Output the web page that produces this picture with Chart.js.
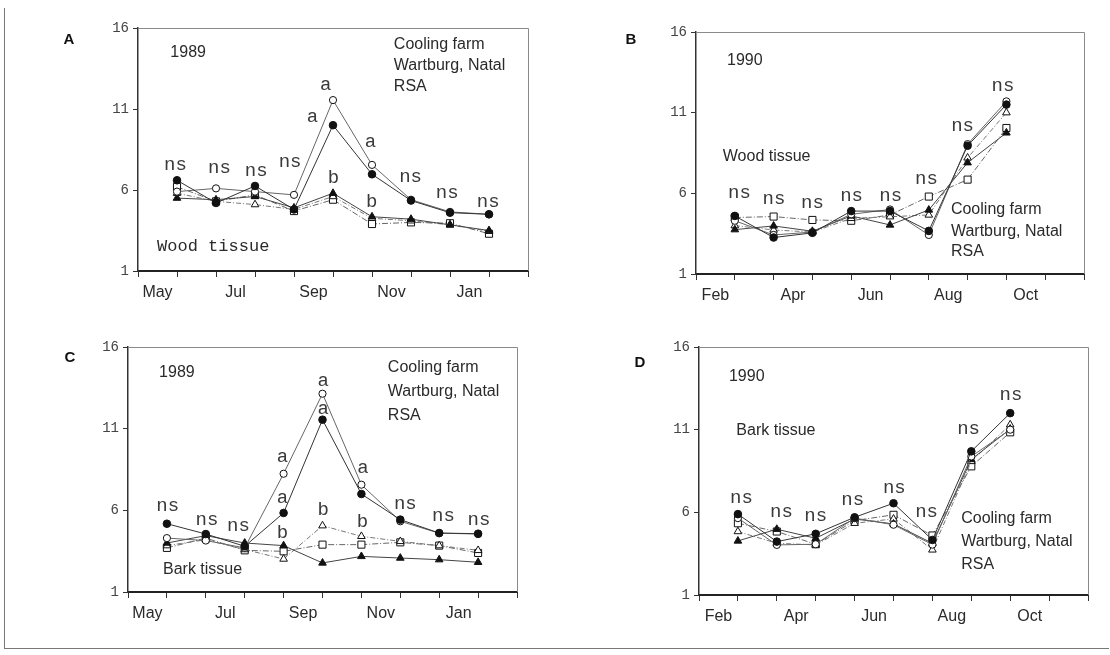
<!DOCTYPE html>
<html>
<head>
<meta charset="utf-8">
<script src="https://cdn.jsdelivr.net/npm/chart.js@4.4.1/dist/chart.umd.min.js"></script>
<style>
  html, body { margin: 0; padding: 0; background: #fff; }
  #page { position: relative; width: 1110px; height: 655px; overflow: hidden; }
  .panel { position: absolute; }
  #frame { position: absolute; left: 4px; top: 8px; width: 1104px; height: 640px;
           border-left: 1px solid #777; border-bottom: 1px solid #777; }
</style>
</head>
<body>
<div id="page">
  <div id="frame"></div>
  <div class="panel" style="left:0;top:0"><canvas id="chartA" width="555" height="325"></canvas></div>
  <div class="panel" style="left:555px;top:0"><canvas id="chartB" width="555" height="325"></canvas></div>
  <div class="panel" style="left:0;top:325px"><canvas id="chartC" width="555" height="330"></canvas></div>
  <div class="panel" style="left:555px;top:325px"><canvas id="chartD" width="555" height="330"></canvas></div>
</div>
<script>
// -- Data --
const months89 = ['May', 'Jul', 'Sep', 'Nov', 'Jan'];
const months90 = ['Feb', 'Apr', 'Jun', 'Aug', 'Oct'];
const yTicks = [1, 6, 11, 16];

// A: wood tissue 1989 (sampling points 1..9)
const woodDot89     = [6.6, 5.2, 6.25, 4.8, 10.0, 6.97, 5.35, 4.6, 4.5];
const woodRing89    = [5.9, 6.1, 5.9, 5.7, 11.55, 7.55, 5.4, 4.65, 4.5];
const woodTri89     = [5.5, 5.4, 5.6, 4.9, 5.8, 4.35, 4.2, 3.85, 3.5];
const woodOpenTri89 = [5.8, 5.3, 5.1, 4.8, 5.6, 4.25, 4.1, 3.85, 3.45];
const woodSquare89  = [6.2, 5.3, 5.7, 4.7, 5.4, 3.9, 4.0, 3.95, 3.3];

// B: wood tissue 1990 (sampling points 1..8)
const woodDot90     = [4.6, 3.26, 3.55, 4.9, 4.9, 3.67, 8.95, 11.5];
const woodRing90    = [4.3, 3.42, 3.6, 4.7, 5.0, 3.42, 9.05, 11.7];
const woodTri90     = [3.75, 3.98, 3.65, 4.6, 4.04, 4.97, 7.9, 9.75];
const woodOpenTri90 = [4.0, 3.73, 3.6, 4.45, 4.55, 4.66, 8.2, 11.0];
const woodSquare90  = [4.5, 4.56, 4.35, 4.3, 4.66, 5.8, 6.85, 10.05];

// C: bark tissue 1989
const barkDot89     = [5.18, 4.55, 3.8, 5.84, 11.55, 7.0, 5.43, 4.61, 4.57];
const barkRing89    = [4.3, 4.15, 3.7, 8.24, 13.14, 7.57, 5.33, 4.6, 4.55];
const barkTri89     = [4.0, 4.45, 4.0, 3.84, 2.78, 3.18, 3.08, 2.98, 2.82];
const barkOpenTri89 = [3.84, 4.2, 3.6, 3.02, 5.06, 4.41, 4.1, 3.84, 3.55];
const barkSquare89  = [3.7, 4.3, 3.55, 3.49, 3.9, 3.9, 4.04, 3.84, 3.39];

// D: bark tissue 1990
const barkDot90     = [5.89, 4.23, 4.7, 5.7, 6.55, 4.33, 9.69, 12.0];
const barkRing90    = [5.65, 4.03, 4.07, 5.65, 5.25, 4.05, 9.38, 11.0];
const barkTri90     = [4.27, 4.98, 4.43, 5.6, 5.3, 4.13, 9.2, 11.04];
const barkOpenTri90 = [4.84, 4.13, 4.03, 5.34, 5.6, 3.73, 9.08, 11.3];
const barkSquare90  = [5.34, 4.84, 4.07, 5.5, 5.85, 4.6, 8.78, 10.84];

// significance letters [text, x, y] in axis units
const sigA = [['ns',0.96,7.55],['ns',2.09,7.34],['ns',3.03,7.17],['ns',3.9,7.75],
  ['a',4.81,12.48],['a',4.47,10.49],['b',5.01,6.72],['a',5.96,8.98],['b',5.99,5.28],
  ['ns',6.99,6.82],['ns',7.93,5.79],['ns',8.98,5.28]];
const sigB = [['ns',1.12,6.01],['ns',2.01,5.64],['ns',3.0,5.43],['ns',4.01,5.85],
  ['ns',5.02,5.85],['ns',5.94,6.88],['ns',6.87,10.15],['ns',7.91,12.64]];
const sigC = [['ns',1.02,6.29],['ns',2.03,5.43],['ns',2.84,5.02],['a',3.97,9.24],
  ['a',3.97,6.76],['b',3.97,4.61],['a',5.02,13.9],['a',5.02,12.2],['b',5.02,6.04],
  ['a',6.04,8.59],['b',6.03,5.29],['ns',7.13,6.41],['ns',8.11,5.63],['ns',9.02,5.43]];
const sigD = [['ns',1.09,6.86],['ns',2.12,6.05],['ns',3.0,5.75],['ns',3.95,6.72],
  ['ns',5.02,7.46],['ns',5.85,6.05],['ns',6.93,11.06],['ns',8.02,13.12]];

// -- Styles --
const SANS = "'Liberation Sans', Arial, sans-serif";
const MONO = "'Liberation Mono', 'Courier New', monospace";
const INK = '#2a2a2a';

function series(values, kind) {
    const base = {
        data: values.map((v, i) => ({ x: i + 1, y: v })),
        borderWidth: 1,
        pointBorderWidth: 1,
        pointBorderColor: '#111',
        tension: 0
    };
    if (kind === 'dot') return Object.assign(base, { borderColor: '#333', pointStyle: 'circle', pointRadius: 3.8, pointBackgroundColor: '#111' });
    if (kind === 'ring') return Object.assign(base, { borderColor: '#666', pointStyle: 'circle', pointRadius: 3.6, pointBackgroundColor: '#fff' });
    if (kind === 'tri') return Object.assign(base, { borderColor: '#444', pointStyle: 'triangle', pointRadius: 4.4, pointBackgroundColor: '#111' });
    if (kind === 'openTri') return Object.assign(base, { borderColor: '#777', borderDash: [5, 2, 1, 2], pointStyle: 'triangle', pointRadius: 4.4, pointBackgroundColor: '#fff' });
    return Object.assign(base, { borderColor: '#666', borderDash: [6, 2, 1, 2], pointStyle: 'rect', pointRadius: 5, pointBackgroundColor: '#fff' });
}

// extra text drawn inside each panel
const panelText = {
    id: 'panelText',
    afterDatasetsDraw(chart, args, opts) {
        const { ctx, chartArea, scales } = chart;
        ctx.save();
        // frame round the plot area
        ctx.strokeStyle = '#8a8a8a';
        ctx.lineWidth = 1;
        ctx.beginPath();
        ctx.moveTo(chartArea.left, chartArea.top + 0.5);
        ctx.lineTo(chartArea.right + 0.5, chartArea.top + 0.5);
        ctx.lineTo(chartArea.right + 0.5, chartArea.bottom);
        ctx.stroke();

        ctx.fillStyle = INK;
        ctx.textBaseline = 'middle';
        (opts.notes || []).forEach(n => {
            ctx.font = n.font;
            ctx.textAlign = 'left';
            ctx.fillText(n.text, scales.x.getPixelForValue(n.x), scales.y.getPixelForValue(n.y));
        });
        ctx.font = '19px ' + MONO;
        ctx.fillStyle = '#3a3a3a';
        ctx.textAlign = 'center';
        (opts.sig || []).forEach(s => {
            ctx.fillText(s[0], scales.x.getPixelForValue(s[1]), scales.y.getPixelForValue(s[2]));
        });
        ctx.font = 'bold 15px ' + SANS;
        ctx.fillStyle = '#111';
        ctx.fillText(opts.letter[0], opts.letter[1], opts.letter[2]);
        ctx.restore();
    }
};

function makePanel(id, months, sets, pad, sig, notes, letter) {
    const halfSteps = [];
    for (let v = 0; v <= 10; v += 0.5) halfSteps.push(v);
    new Chart(document.getElementById(id), {
        type: 'line',
        data: { datasets: sets },
        options: {
            responsive: false,
            animation: false,
            layout: { padding: pad },
            plugins: { legend: { display: false }, tooltip: { enabled: false }, panelText: { sig, notes, letter } },
            scales: {
                x: {
                    type: 'linear', min: 0, max: 10,
                    afterBuildTicks: s => { s.ticks = halfSteps.map(v => ({ value: v })); },
                    afterFit: s => { s.height = 36; },
                    ticks: {
                        autoSkip: false, maxRotation: 0, padding: 6, color: INK,
                        font: { family: SANS, size: 16 },
                        callback: v => ((v - 0.5) % 2 === 0 ? months[(v - 0.5) / 2] : '')
                    },
                    grid: {
                        drawOnChartArea: false, tickLength: 6, tickWidth: 1,
                        tickColor: c => (Number.isInteger(c.tick.value) ? '#333' : 'rgba(0,0,0,0)')
                    },
                    border: { color: '#222', width: 2 }
                },
                y: {
                    min: 1, max: 16,
                    afterBuildTicks: s => { s.ticks = yTicks.map(v => ({ value: v })); },
                    afterFit: s => { s.width = 40; },
                    ticks: { padding: 4, color: '#444', font: { family: MONO, size: 14 } },
                    grid: { drawOnChartArea: false, tickLength: 5, tickColor: '#333' },
                    border: { color: '#333', width: 1.5 }
                }
            }
        },
        plugins: [panelText]
    });
}

function threeLines(x, y1, y2, y3) {
    const f = '16px ' + SANS;
    return [{ text: 'Cooling farm', x, y: y1, font: f }, { text: 'Wartburg, Natal', x, y: y2, font: f }, { text: 'RSA', x, y: y3, font: f }];
}

makePanel('chartA', months89,
    [series(woodDot89, 'dot'), series(woodRing89, 'ring'), series(woodTri89, 'tri'), series(woodOpenTri89, 'openTri'), series(woodSquare89, 'square')],
    { left: 98, top: 28, right: 27, bottom: 18 }, sigA,
    [{ text: '1989', x: 0.83, y: 14.46, font: '16px ' + SANS }, { text: 'Wood tissue', x: 0.49, y: 2.5, font: '17px ' + MONO }]
        .concat(threeLines(6.56, 14.95, 13.65, 12.38)),
    ['A', 69, 40]);

makePanel('chartB', months90,
    [series(woodDot90, 'dot'), series(woodRing90, 'ring'), series(woodTri90, 'tri'), series(woodOpenTri90, 'openTri'), series(woodSquare90, 'square')],
    { left: 101, top: 32, right: 26, bottom: 15 }, sigB,
    [{ text: '1990', x: 0.8, y: 14.25, font: '16px ' + SANS }, { text: 'Wood tissue', x: 0.69, y: 8.29, font: '16px ' + SANS }]
        .concat(threeLines(6.57, 4.98, 3.63, 2.39)),
    ['B', 76, 40]);

makePanel('chartC', months89,
    [series(barkDot89, 'dot'), series(barkRing89, 'ring'), series(barkTri89, 'tri'), series(barkOpenTri89, 'openTri'), series(barkSquare89, 'square')],
    { left: 88, top: 22, right: 38, bottom: 27 }, sigC,
    [{ text: '1989', x: 0.8, y: 14.41, font: '16px ' + SANS }, { text: 'Bark tissue', x: 0.9, y: 2.37, font: '16px ' + SANS }]
        .concat(threeLines(6.68, 14.72, 13.28, 11.8)),
    ['C', 70, 33]);

makePanel('chartD', months90,
    [series(barkDot90, 'dot'), series(barkRing90, 'ring'), series(barkTri90, 'tri'), series(barkOpenTri90, 'openTri'), series(barkSquare90, 'square')],
    { left: 104, top: 22, right: 22, bottom: 24 }, sigD,
    [{ text: '1990', x: 0.77, y: 14.24, font: '16px ' + SANS }, { text: 'Bark tissue', x: 0.96, y: 10.96, font: '16px ' + SANS }]
        .concat(threeLines(6.74, 5.65, 4.23, 2.82)),
    ['D', 85, 38]);
</script>
</body>
</html>
